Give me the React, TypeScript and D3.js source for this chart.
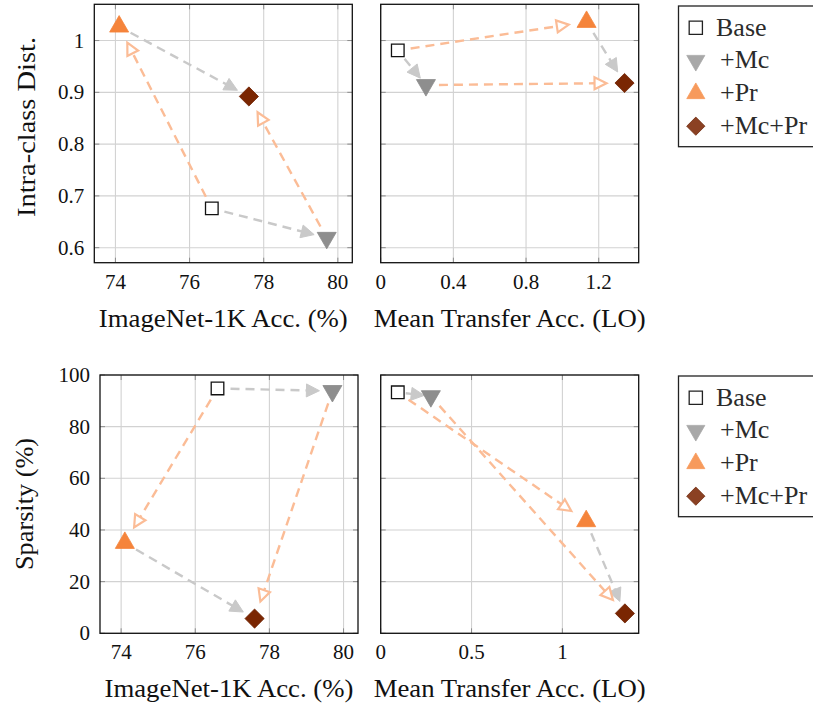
import React from "react";
import * as d3 from "d3";

// ---------- data ----------
const methods = ["Base", "+Mc", "+Pr", "+Mc+Pr"];
const imagenetAcc = [76.6, 79.7, 74.1, 77.6];
const intraClassDist = [0.676, 0.619, 1.027, 0.892];
const transferAccTop = [0.094, 0.249, 1.133, 1.342];
const transferIntraDist = [0.981, 0.914, 1.036, 0.918];
const imagenetAccBottom = [76.6, 79.7, 74.1, 77.6];
const sparsityImagenet = [94.8, 93.8, 35.0, 5.7];
const transferAccBottom = [0.094, 0.276, 1.131, 1.344];
const sparsityTransfer = [93.3, 91.8, 43.4, 7.7];

// arrows: [from, to, kind]  (mc = adding Mc, pr = adding Pr)
const arrowPairs: [number, number, string][] = [
  [0, 1, "mc"],
  [2, 3, "mc"],
  [0, 2, "pr"],
  [1, 3, "pr"],
];

const xTicksImagenet = [74, 76, 78, 80];
const yTicksIntra = [0.6, 0.7, 0.8, 0.9, 1];
const xTicksTransferTop = [0, 0.4, 0.8, 1.2];
const yTicksSparsity = [0, 20, 40, 60, 80, 100];
const xTicksTransferBottom = [0, 0.5, 1];

const FONT = "Liberation Serif";
const markerFill = ["#ffffff", "#8e8e8e", "#f5843b", "#7a2602"];
const markerStroke = ["#111111", "#8a8a8a", "#f5843b", "#6e2202"];
const legendFill = ["#ffffff", "#a8a8a8", "#f79a5c", "#8b4123"];
const legendStroke = ["#222222", "#a8a8a8", "#f79a5c", "#6f2a0c"];

// Times-metric glyph widths (em) for text length estimation
const EM: Record<string, number> = {
  ".": 0.25, B: 0.667, a: 0.444, s: 0.389, e: 0.444, "+": 0.564,
  M: 0.889, c: 0.444, P: 0.556, r: 0.333,
};
function textWidth(s: string, size: number): number {
  let w = 0;
  for (const ch of s) w += /[0-9]/.test(ch) ? 0.5 : EM[ch] ?? 0.5;
  return w * size;
}

function markerPath(i: number, s = 1): string {
  const r = 11 * s;
  if (i === 0) {
    const h = 6.3 * s;
    return `M${-h},${-h}H${h}V${h}H${-h}Z`;
  }
  if (i === 1) {
    return `M0,${r}L${-r * 0.866},${-r / 2}L${r * 0.866},${-r / 2}Z`;
  }
  if (i === 2) {
    return `M0,${-r}L${-r * 0.866},${r / 2}L${r * 0.866},${r / 2}Z`;
  }
  const d = 9.6 * s;
  return `M0,${-d}L${d},0L0,${d}L${-d},0Z`;
}

type PanelProps = {
  x0: number;
  x1: number;
  y0: number;
  y1: number;
  xDomain: [number, number];
  yDomain: [number, number];
  xs: number[];
  ys: number[];
  xTicks: number[];
  yTicks: number[];
  showYLabels: boolean;
  xLabel: string;
  xLabelLen: number;
  yLabel?: string;
  yLabelLen?: number;
  yLabelX?: number;
  yLabelY?: number;
};

function T(props: any) {
  const { children, ...rest } = props;
  return (
    <text fontFamily={FONT} style={{ fontFamily: FONT }} lengthAdjust="spacingAndGlyphs" {...rest}>
      {children}
    </text>
  );
}

function Panel(p: PanelProps) {
  const xs = d3.scaleLinear().domain(p.xDomain).range([p.x0, p.x1]);
  const ys = d3.scaleLinear().domain(p.yDomain).range([p.y1, p.y0]);
  const fmt = (v: number) => String(v);
  const pts = p.xs.map((x, i) => [xs(x), ys(p.ys[i])]);

  const arrows = arrowPairs.map(([a, b, kind], k) => {
    const [ax, ay] = pts[a];
    const [bx, by] = pts[b];
    const dx = bx - ax;
    const dy = by - ay;
    const L = Math.hypot(dx, dy);
    const ux = dx / L;
    const uy = dy / L;
    const sStart = Math.min(13, L * 0.24);
    const sEnd = Math.min(kind === "mc" ? 13 : 18, L * 0.2);
    const sx = ax + ux * sStart;
    const sy = ay + uy * sStart;
    const tx = bx - ux * sEnd;
    const ty = by - uy * sEnd;
    const headL = kind === "mc" ? 13 : 12;
    const headW = kind === "mc" ? 6.5 : 6;
    const baseX = tx - ux * headL;
    const baseY = ty - uy * headL;
    const px = -uy;
    const py = ux;
    const head = `M${tx},${ty}L${baseX + px * headW},${baseY + py * headW}L${baseX - px * headW},${baseY - py * headW}Z`;
    const color = kind === "mc" ? "#c9c9c9" : "#fbbc96";
    const lineEndX = kind === "mc" ? baseX + ux * 2 : baseX;
    const lineEndY = kind === "mc" ? baseY + uy * 2 : baseY;
    return (
      <g key={k}>
        <line
          x1={sx}
          y1={sy}
          x2={lineEndX}
          y2={lineEndY}
          stroke={color}
          strokeWidth={2.4}
          strokeDasharray="9 6"
        />
        <path
          d={head}
          fill={kind === "mc" ? color : "#ffffff"}
          stroke={color}
          strokeWidth={kind === "mc" ? 1 : 2.2}
          strokeLinejoin="miter"
        />
      </g>
    );
  });

  const tickLen = 5;
  return (
    <g>
      {p.xTicks.map((t) => (
        <line key={"gx" + t} x1={xs(t)} x2={xs(t)} y1={p.y0} y2={p.y1} stroke="#d2d2d2" strokeWidth={1.1} />
      ))}
      {p.yTicks.map((t) => (
        <line key={"gy" + t} x1={p.x0} x2={p.x1} y1={ys(t)} y2={ys(t)} stroke="#d2d2d2" strokeWidth={1.1} />
      ))}
      {p.xTicks.map((t) => (
        <g key={"tx" + t}>
          <line x1={xs(t)} x2={xs(t)} y1={p.y1} y2={p.y1 - tickLen} stroke="#8c8c8c" strokeWidth={1} />
          <line x1={xs(t)} x2={xs(t)} y1={p.y0} y2={p.y0 + tickLen} stroke="#8c8c8c" strokeWidth={1} />
        </g>
      ))}
      {p.yTicks.map((t) => (
        <g key={"ty" + t}>
          <line x1={p.x0} x2={p.x0 + tickLen} y1={ys(t)} y2={ys(t)} stroke="#8c8c8c" strokeWidth={1} />
          <line x1={p.x1} x2={p.x1 - tickLen} y1={ys(t)} y2={ys(t)} stroke="#8c8c8c" strokeWidth={1} />
        </g>
      ))}
      {arrows}
      {pts.map(([x, y], i) => (
        <path
          key={"m" + i}
          d={markerPath(i)}
          transform={`translate(${x},${y})`}
          fill={markerFill[i]}
          stroke={markerStroke[i]}
          strokeWidth={i === 0 ? 1.3 : 0.8}
        />
      ))}
      <rect x={p.x0} y={p.y0} width={p.x1 - p.x0} height={p.y1 - p.y0} fill="none" stroke="#111" strokeWidth={1.3} />
      {p.xTicks.map((t) => (
        <T
          key={"lx" + t}
          x={xs(t)}
          y={p.y1 + 26}
          textAnchor="middle"
          fontSize={21}
          fill="#111"
          textLength={textWidth(fmt(t), 21)}
        >
          {fmt(t)}
        </T>
      ))}
      {p.showYLabels &&
        p.yTicks.map((t) => (
          <T
            key={"ly" + t}
            x={p.x0 - 10}
            y={ys(t) + 7}
            textAnchor="end"
            fontSize={21}
            fill="#111"
            textLength={textWidth(fmt(t), 21)}
          >
            {fmt(t)}
          </T>
        ))}
      <T x={(p.x0 + p.x1) / 2} y={p.y1 + 64} textAnchor="middle" fontSize={26} fill="#111" textLength={p.xLabelLen}>
        {p.xLabel}
      </T>
      {p.yLabel && (
        <T
          transform={`translate(${p.yLabelX},${p.yLabelY}) rotate(-90)`}
          textAnchor="middle"
          dominantBaseline="central"
          fontSize={26}
          fill="#111"
          textLength={p.yLabelLen}
        >
          {p.yLabel}
        </T>
      )}
    </g>
  );
}

function Legend({ x, y }: { x: number; y: number }) {
  return (
    <g>
      <rect x={x} y={y} width={150} height={140.7} fill="#fff" stroke="#222" strokeWidth={1.3} />
      {methods.map((m, i) => {
        const cy = y + 21.8 + i * 32.8;
        return (
          <g key={m}>
            <path
              d={markerPath(i, i === 0 ? 1.05 : 0.95)}
              transform={`translate(${x + 17.3},${cy})`}
              fill={legendFill[i]}
              stroke={legendStroke[i]}
              strokeWidth={i === 0 ? 1.3 : 0.8}
            />
            <T
              x={x + (i === 0 ? 37.5 : 41.5)}
              y={cy + 7.8}
              fontSize={26}
              fill="#2b2b2b"
              textLength={textWidth(m, 26)}
            >
              {m}
            </T>
          </g>
        );
      })}
    </g>
  );
}

export default function App() {
  return (
    <div style={{ position: "absolute", left: 0, top: 0 }}>
      <svg width={813} height={706} style={{ display: "block", background: "#fff" }}>
        <Panel
          x0={94.3}
          x1={352.3}
          y0={4.3}
          y1={262.7}
          xDomain={[73.43, 80.39]}
          yDomain={[0.571, 1.07]}
          xs={imagenetAcc}
          ys={intraClassDist}
          xTicks={xTicksImagenet}
          yTicks={yTicksIntra}
          showYLabels={true}
          xLabel="ImageNet-1K Acc. (%)"
          xLabelLen={249}
          yLabel="Intra-class Dist."
          yLabelLen={180}
          yLabelX={26}
          yLabelY={127}
        />
        <Panel
          x0={380.7}
          x1={638.7}
          y0={4.3}
          y1={262.7}
          xDomain={[0, 1.42]}
          yDomain={[0.571, 1.07]}
          xs={transferAccTop}
          ys={transferIntraDist}
          xTicks={xTicksTransferTop}
          yTicks={yTicksIntra}
          showYLabels={false}
          xLabel="Mean Transfer Acc. (LO)"
          xLabelLen={272}
        />
        <Panel
          x0={100}
          x1={358}
          y0={375}
          y1={633.3}
          xDomain={[73.43, 80.39]}
          yDomain={[0, 100]}
          xs={imagenetAccBottom}
          ys={sparsityImagenet}
          xTicks={xTicksImagenet}
          yTicks={yTicksSparsity}
          showYLabels={true}
          xLabel="ImageNet-1K Acc. (%)"
          xLabelLen={249}
          yLabel="Sparsity (%)"
          yLabelLen={132}
          yLabelX={24}
          yLabelY={504}
        />
        <Panel
          x0={380.7}
          x1={638.7}
          y0={375}
          y1={633.3}
          xDomain={[0, 1.42]}
          yDomain={[0, 100]}
          xs={transferAccBottom}
          ys={sparsityTransfer}
          xTicks={xTicksTransferBottom}
          yTicks={yTicksSparsity}
          showYLabels={false}
          xLabel="Mean Transfer Acc. (LO)"
          xLabelLen={272}
        />
        <Legend x={678.5} y={6} />
        <Legend x={678.5} y={376} />
      </svg>
    </div>
  );
}
